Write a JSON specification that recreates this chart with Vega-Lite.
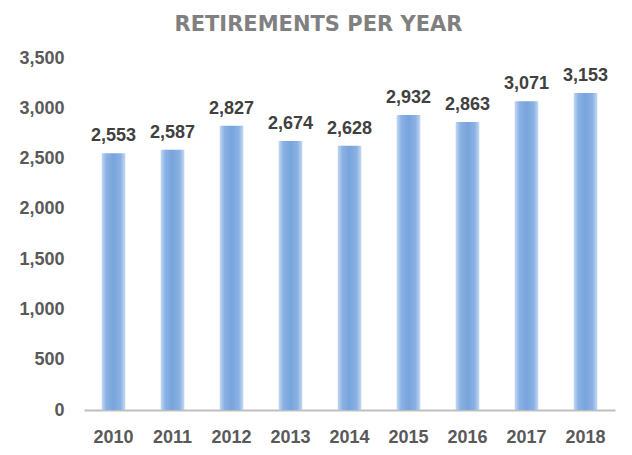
{
  "$schema": "https://vega.github.io/schema/vega-lite/v6.json",
  "autosize": {"type": "none"},
  "width": 531,
  "height": 352,
  "padding": {"left": 84, "top": 58, "right": 17, "bottom": 45},
  "background": "white",
  "title": {
    "text": "RETIREMENTS PER YEAR",
    "font": "DejaVu Sans",
    "fontSize": 21,
    "fontWeight": "bold",
    "color": "#808080",
    "anchor": "middle",
    "baseline": "alphabetic",
    "dx": -31,
    "offset": -3
  },
  "data": {
    "values": [
      {"year": "2010", "retirements": 2553},
      {"year": "2011", "retirements": 2587},
      {"year": "2012", "retirements": 2827},
      {"year": "2013", "retirements": 2674},
      {"year": "2014", "retirements": 2628},
      {"year": "2015", "retirements": 2932},
      {"year": "2016", "retirements": 2863},
      {"year": "2017", "retirements": 3071},
      {"year": "2018", "retirements": 3153}
    ]
  },
  "encoding": {
    "x": {
      "field": "year",
      "type": "ordinal",
      "scale": {"paddingInner": 0.6, "paddingOuter": 0.3},
      "axis": {
        "title": null,
        "labelAngle": 0,
        "labelFont": "Liberation Sans",
        "labelFontSize": 18,
        "labelFontWeight": "bold",
        "labelColor": "#595959",
        "labelPadding": 18,
        "ticks": false,
        "domainColor": "#bfbfbf",
        "domainWidth": 2,
        "grid": false
      }
    },
    "y": {
      "field": "retirements",
      "type": "quantitative",
      "scale": {"domain": [0, 3500], "nice": false},
      "axis": {
        "title": null,
        "values": [0, 500, 1000, 1500, 2000, 2500, 3000, 3500],
        "format": ",d",
        "labelFont": "Liberation Sans",
        "labelFontSize": 18,
        "labelFontWeight": "bold",
        "labelColor": "#595959",
        "labelPadding": 20,
        "ticks": false,
        "domain": false,
        "grid": false
      }
    }
  },
  "layer": [
    {
      "mark": {
        "type": "bar",
        "fill": {
          "x1": 0, "y1": 0, "x2": 1, "y2": 0,
          "gradient": "linear",
          "stops": [
            {"offset": 0, "color": "#c3d8f2"},
            {"offset": 0.2, "color": "#8ab1e3"},
            {"offset": 0.5, "color": "#78a4dc"},
            {"offset": 0.8, "color": "#8ab1e3"},
            {"offset": 1, "color": "#c3d8f2"}
          ]
        }
      }
    },
    {
      "mark": {
        "type": "text",
        "font": "Liberation Sans",
        "fontSize": 18,
        "fontWeight": "bold",
        "color": "#404040",
        "baseline": "alphabetic",
        "dy": -12
      },
      "encoding": {
        "text": {"field": "retirements", "type": "quantitative", "format": ",d"}
      }
    }
  ],
  "config": {"view": {"stroke": null}}
}
